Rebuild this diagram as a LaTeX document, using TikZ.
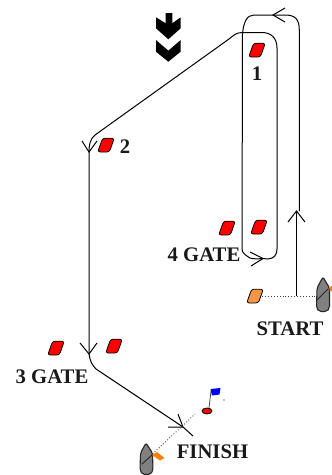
\documentclass[tikz,border=0pt]{standalone}
\usepackage{fontspec}
\setmainfont{Liberation Serif}
\definecolor{buoyorange}{HTML}{F79646}
\tikzset{
  x=1pt,y=-1pt,
  course/.style={draw=black,line width=1pt,line join=round},
  barb/.style={draw=black,line width=1pt},
  lbl/.style={font=\fontsize{20.7}{22}\selectfont\bfseries,inner sep=0pt,text=black!90},
  boat/.style={draw=black!85,fill=black!50,line width=1.1pt},
  sight/.style={draw=black!75,line width=0.9pt,dotted},
  buoy/.pic={\draw[fill=#1,draw=black,line width=0.8pt,rounded corners=2.5pt]
     (-8.3,7)--(-3.4,-6.8)--(8.3,-6.8)--(3.4,7)--cycle;},
  wind/.style={fill=black,draw=none}
}
\begin{document}
\begin{tikzpicture}
\path[use as bounding box] (0,0) rectangle (332,475);
% wind
\fill[wind] (165.7,13)--(172.3,13)--(172.3,23.3)--(180.7,17.3)--(180.7,28.3)--(168.3,39.3)--(156,28.3)--(156,17.3)--(165.7,23.3)--cycle;
\fill[wind] (156,40)--(168.3,50.7)--(180.7,40)--(180.7,51.7)--(168.3,61.7)--(156,51.7)--cycle;
% buoys
\path (257,50) pic {buoy=red};
\path (106,145) pic {buoy=red};
\path (227,228) pic {buoy=red};
\path (259,227) pic {buoy=red};
\path (56,348) pic {buoy=red};
\path (114,346) pic {buoy=red};
\path (255,296) pic {buoy=buoyorange};
% coordinates
\coordinate (startpt) at (296.5,296);
\coordinate (a1) at (296.5,211);
\coordinate (a2) at (273,15);
\coordinate (a3) at (263,258.5);
\coordinate (a4) at (89,152);
\coordinate (a5) at (89,354);
\coordinate (a6) at (183,427);
\coordinate (endpt) at (193,436);
\coordinate (boatA) at (317,296);
\node[inner sep=0pt,minimum size=0pt] (orange) at (262,296) {};
% course
\draw[course] (startpt)--(a1);
\draw[course] (299.3,211)--(299.3,30) .. controls (299.3,19) and (295,15) .. (285,15)--(a2)--(254,15)
  .. controls (247,15) and (243.5,22) .. (242.5,34)--(242,250) .. controls (243,254) and (247,256) .. (250,258)
  .. controls (253,259) and (258,259) .. (a3)--(268,259) .. controls (274,258.5) and (277,255) .. (277,249)
  --(277,48) .. controls (277,38) and (271,32.5) .. (262,32.5)--(242,32.5) .. controls (236,32.5) and (233,36) .. (229,39)
  --(95,135) .. controls (90,139) and (89,145) .. (a4)--(a5) .. controls (90,361) and (92,365) .. (96,369)--(a6)--(endpt);
% arrow barbs
\draw[barb] (288,222)--(a1)--(305,222);
\draw[barb] (285,8)--(a2)--(285,22);
\draw[barb] (250,252)--(a3)--(251,266);
\draw[barb] (82,141)--(a4)--(97,141);
\draw[barb] (80,343)--(a5)--(97,343);
\draw[barb] (178,414)--(a6)--(168,427);
% start line
\draw[sight] (orange)--(boatA);
\draw[boat,rounded corners=2pt] (323,277)--(317,288)--(316.5,308)--(319,311.5)--(327,311.5)--(329.5,308)--(329.5,288)--cycle;
\draw[line width=0.9pt,black!85] (317,300)--(328,289);
\fill[orange] (329.5,287)--(332,286)--(332,291)--(329.5,291)--cycle;
% finish
\draw[sight] (142,464)--(195,414);
\draw[boat,rounded corners=2pt] (146,443)--(140.5,453)--(140,470)--(142.5,474.5)--(150.5,474.5)--(153,470)--(152.5,453)--cycle;
\draw[line width=0.9pt,black!85] (142,464)--(152,455);
\fill[orange] (152,455)--(157,452)--(164.5,458)--(160,460.5)--cycle;
\draw[fill=red,draw=black,line width=0.8pt] (207,411) ellipse [x radius=5,y radius=3];
\draw[black!70,line width=0.8pt] (209,408)--(211,391);
\fill[blue] (210.5,389)--(220.5,388)--(219.5,394.5)--(212,395.5)--cycle;
\fill[black] (224,400) circle (0.7);
% labels
\node[lbl] (n1) at (257,73.5) {1};
\node[lbl] (n2) at (125,147) {2};
\node[lbl] (n4) at (204,254.5) {4 GATE};
\node[lbl] (n3) at (52,377) {3 GATE};
\node[lbl] (ns) at (290,329) {START};
\node[lbl] (nf) at (212.5,452) {FINISH};
\end{tikzpicture}
\end{document}
